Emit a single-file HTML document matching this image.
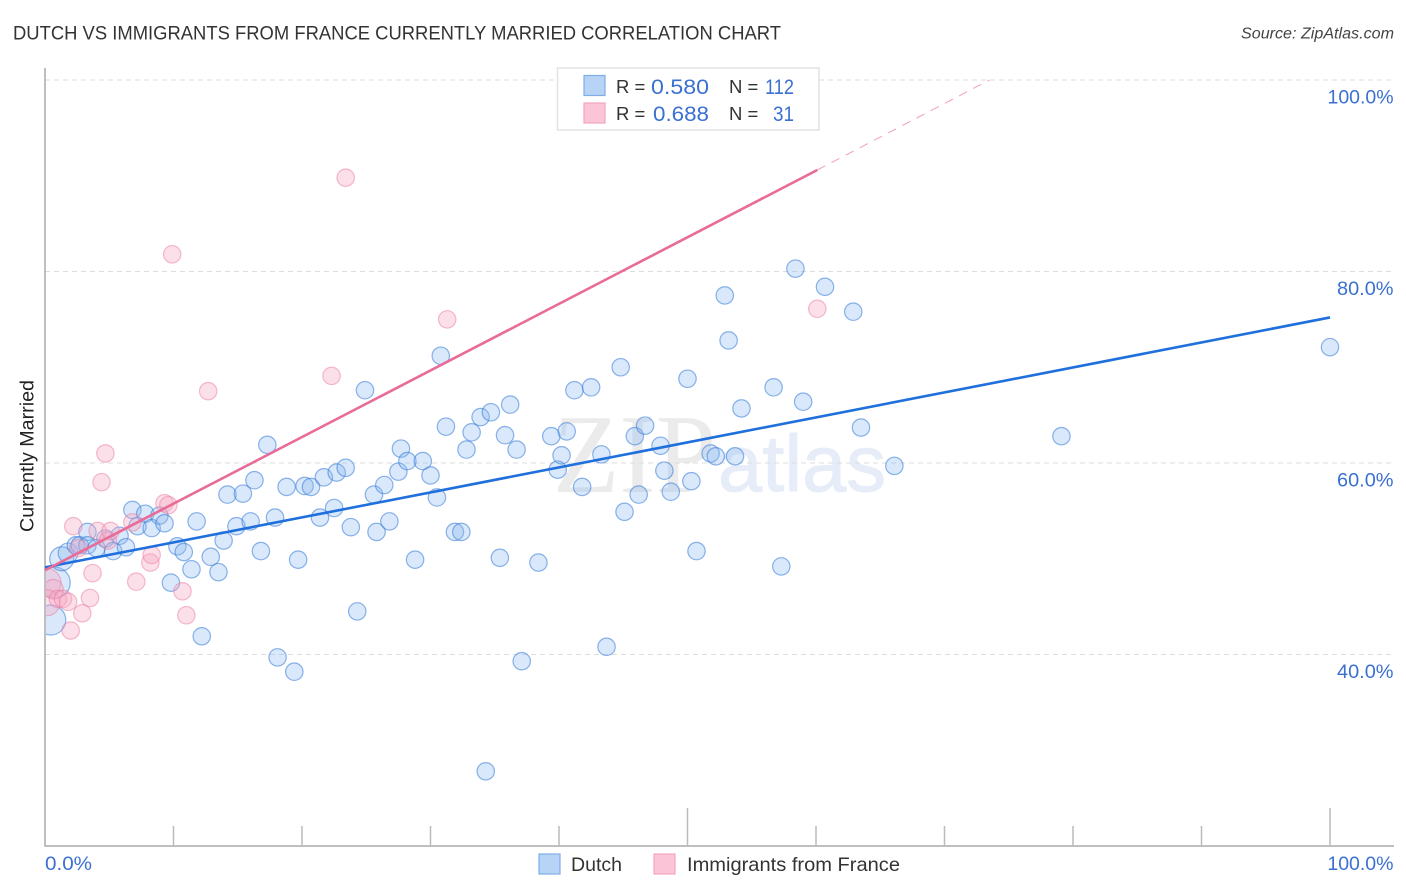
<!DOCTYPE html>
<html lang="en">
<head>
<meta charset="utf-8">
<title>Dutch vs Immigrants from France Currently Married Correlation Chart</title>
<style>
html,body{margin:0;padding:0;background:#fff;}
svg{display:block;font-family:"Liberation Sans",sans-serif;}
</style>
</head>
<body>
<svg id="chart" xmlns="http://www.w3.org/2000/svg" width="1406" height="892" viewBox="0 0 1406 892">
  <defs>
    <clipPath id="plot-clip"><rect x="46" y="60" width="1360" height="786"/></clipPath>
  </defs>
  <text x="13" y="39.500" font-size="19.500" fill="#333" textLength="768" lengthAdjust="spacingAndGlyphs">DUTCH VS IMMIGRANTS FROM FRANCE CURRENTLY MARRIED CORRELATION CHART</text>
  <text x="1241" y="38.500" font-size="15.500" font-style="italic" fill="#444" textLength="153" lengthAdjust="spacingAndGlyphs">Source: ZipAtlas.com</text>
  <g>
    <text x="553" y="492" font-family="'Liberation Serif',serif" font-size="112" fill="#ebebeb" textLength="163" lengthAdjust="spacingAndGlyphs">ZIP</text>
    <text x="718" y="491" font-family="'Liberation Sans',sans-serif" font-size="80" fill="#e6edf9" stroke="#e6edf9" stroke-width="1" textLength="168" lengthAdjust="spacingAndGlyphs">atlas</text>
  </g>
  <g id="grid"></g>
  <g id="axes"></g>
  <g id="dutch-points" clip-path="url(#plot-clip)"></g>
  <g id="france-points" clip-path="url(#plot-clip)"></g>
  <g id="lines"></g>
  <g id="y-labels"></g>
  <g id="x-labels"></g>
  <text transform="translate(33.500,456) rotate(-90)" font-size="19" fill="#222" text-anchor="middle" textLength="152" lengthAdjust="spacingAndGlyphs">Currently Married</text>

  <g>
    <rect x="557.500" y="68" width="261.500" height="62" fill="#fff" stroke="#e2e2e2" stroke-width="1.500"/>
    <rect x="584" y="75.500" width="21" height="20" fill="#b7d3f6" stroke="#7fade6" stroke-width="1.200"/>
    <rect x="584" y="103" width="21" height="20" fill="#fcc5d7" stroke="#f2a5bd" stroke-width="1.200"/>
    <text x="616" y="93" font-size="18.500" fill="#333">R =</text>
    <text x="651" y="94" font-size="21" fill="#3a70d0" textLength="58" lengthAdjust="spacingAndGlyphs">0.580</text>
    <text x="729" y="93" font-size="18.500" fill="#333">N =</text>
    <text x="765" y="94" font-size="21" fill="#3a70d0" textLength="29" lengthAdjust="spacingAndGlyphs">112</text>
    <text x="616" y="120" font-size="18.500" fill="#333">R =</text>
    <text x="653" y="121" font-size="21" fill="#3a70d0" textLength="56" lengthAdjust="spacingAndGlyphs">0.688</text>
    <text x="729" y="120" font-size="18.500" fill="#333">N =</text>
    <text x="773" y="121" font-size="21" fill="#3a70d0" textLength="21" lengthAdjust="spacingAndGlyphs">31</text>
  </g>

  <g>
    <rect x="539" y="854" width="21" height="20" fill="#b7d3f6" stroke="#7fade6" stroke-width="1.200"/>
    <text x="571" y="871" font-size="19.500" fill="#333" textLength="51" lengthAdjust="spacingAndGlyphs">Dutch</text>
    <rect x="654" y="854" width="21" height="20" fill="#fcc5d7" stroke="#f2a5bd" stroke-width="1.200"/>
    <text x="687" y="871" font-size="19.500" fill="#333" textLength="213" lengthAdjust="spacingAndGlyphs">Immigrants from France</text>
  </g>
</svg>
<script>
const yTicks = [100, 80, 60, 40];
const yTickLabels = ['100.0%', '80.0%', '60.0%', '40.0%'];
const xTicks = [10, 20, 30, 40, 50, 60, 70, 80, 90, 100];
const xMajorTicks = [50, 100];
const xEndLabels = ['0.0%', '100.0%'];

const dutchX = [0.45,0.75,1.3,1.8,2.4,2.7,3.3,3.3,4.0,4.7,5.3,5.8,6.3,6.8,7.2,7.8,8.3,8.9,9.3,9.8,10.3,10.8,11.4,11.8,12.2,12.9,13.5,13.9,14.2,14.9,15.4,16.0,16.3,16.8,17.3,17.9,18.1,18.8,19.4,19.7,20.2,20.7,21.4,21.7,22.5,22.7,23.4,23.8,24.3,24.9,25.6,25.8,26.4,26.8,27.5,27.7,28.2,28.8,29.4,30.0,30.5,30.8,31.2,31.9,32.4,32.8,33.2,33.9,34.3,34.7,35.4,35.8,36.2,36.7,37.1,38.4,39.4,39.9,40.2,40.6,41.2,41.8,42.5,43.3,43.7,44.8,45.1,45.9,46.2,46.7,47.9,48.2,48.7,50.0,50.3,50.7,51.8,52.2,52.9,53.2,53.7,54.2,56.7,57.3,58.4,59.0,60.7,62.9,63.5,66.1,79.1,100];
const dutchY = [43.6,47.5,50.0,50.6,51.4,51.4,52.8,51.4,51.1,52.1,50.8,52.4,51.2,55.1,53.4,54.7,53.2,54.5,53.7,47.5,51.3,50.7,48.9,53.9,41.9,50.2,48.6,51.9,56.7,53.4,56.8,53.9,58.2,50.8,61.9,54.3,39.7,57.5,38.2,49.9,57.6,57.5,54.3,58.5,55.3,59.0,59.5,53.3,44.5,67.6,56.7,52.8,57.7,53.9,59.1,61.5,60.2,49.9,60.2,58.7,56.4,71.2,63.8,52.8,52.8,61.4,63.2,64.8,27.8,65.3,50.1,62.9,66.1,61.4,39.3,49.6,62.8,59.3,60.8,63.3,67.6,57.5,67.9,60.9,40.8,70.0,54.9,62.8,56.7,63.9,61.8,59.2,57.0,68.8,58.1,50.8,61.0,60.7,77.5,72.8,60.7,65.7,67.9,49.2,80.3,66.4,78.4,75.8,63.7,59.7,62.8,72.1];
const dutchWeights = [2.97,3.2,1.9,1.3];

const franceX = [0.15,0.65,0.15,1.0,1.4,1.8,2.0,2.2,2.6,2.9,3.5,3.7,4.1,4.4,4.7,4.9,5.1,6.8,7.1,8.2,8.3,9.3,9.6,9.9,10.7,11.0,12.7,22.3,23.4,31.3,60.1];
const franceY = [47.5,46.8,45.4,45.8,45.8,45.5,42.5,53.4,51.1,44.3,45.9,48.5,52.9,58.0,61.0,51.9,52.9,53.8,47.6,49.6,50.4,55.8,55.6,81.8,46.6,44.1,67.5,69.1,89.8,75.0,76.1];
const franceWeights = [2.6,1.3,2.2];

const dutchTrendX = [0, 100];
const dutchTrendY = [49.1, 75.2];
const franceTrendX = [0, 60.1];
const franceTrendY = [48.8, 90.6];
const franceExtensionX = [60.1, 73.5];
const franceExtensionY = [90.6, 100];

const NS = 'http://www.w3.org/2000/svg';
function xScale(v) { return 45 + v * 12.85; }
function yScale(v) { return 80 + (100 - v) * 9.575; }
function make(tag, attrs, parent) {
  const el = document.createElementNS(NS, tag);
  for (const k in attrs) el.setAttribute(k, attrs[k]);
  parent.appendChild(el);
  return el;
}
const gridG = document.getElementById('grid');
const axesG = document.getElementById('axes');
const yLabG = document.getElementById('y-labels');
const xLabG = document.getElementById('x-labels');
const dutchG = document.getElementById('dutch-points');
const franceG = document.getElementById('france-points');
const lineG = document.getElementById('lines');

yTicks.forEach(function (t, i) {
  const g = make('line', {x1: 45, x2: 1394, y1: yScale(t), y2: yScale(t), stroke: '#dcdcdc', 'stroke-width': 1, 'stroke-dasharray': '5 4'}, gridG);
  
  
  const l = make('text', {x: 1393.500, y: yScale(t) + 23.500, 'font-size': 19.500, fill: '#3a70d0', 'text-anchor': 'end', textLength: yTickLabels[i].length * 9.500 + 9, lengthAdjust: 'spacingAndGlyphs'}, yLabG);
  l.textContent = yTickLabels[i];
  
  
});

const yAxis = make('line', {x1: 45, x2: 45, y1: 68, y2: 846.500, stroke: '#aaa', 'stroke-width': 1.500}, axesG);


const xAxis = make('line', {x1: 44.500, x2: 1394, y1: 846, y2: 846, stroke: '#aaa', 'stroke-width': 1.500}, axesG);


xTicks.forEach(function (t) {
  const major = xMajorTicks.indexOf(t) >= 0;
  const tick = make('line', {x1: xScale(t), x2: xScale(t), y1: major ? 808 : 826, y2: 846, stroke: '#bbb', 'stroke-width': 1.500}, axesG);
  
  
});
const x0 = make('text', {x: 45, y: 870, 'font-size': 19.500, fill: '#3a70d0', textLength: 47, lengthAdjust: 'spacingAndGlyphs'}, xLabG);
x0.textContent = xEndLabels[0];


const x1 = make('text', {x: 1393.500, y: 870, 'font-size': 19.500, fill: '#3a70d0', 'text-anchor': 'end'}, xLabG);
x1.textContent = xEndLabels[1];



dutchX.forEach(function (v, i) {
  const c = make('circle', {cx: xScale(v), cy: yScale(dutchY[i]), r: 8.700 * Math.sqrt(dutchWeights[i] || 1), fill: 'rgba(140,185,240,0.33)', stroke: 'rgba(50,120,215,0.55)', 'stroke-width': 1.200}, dutchG);
  
  
});
franceX.forEach(function (v, i) {
  const c = make('circle', {cx: xScale(v), cy: yScale(franceY[i]), r: 8.700 * Math.sqrt(franceWeights[i] || 1), fill: 'rgba(248,170,195,0.36)', stroke: 'rgba(235,120,160,0.5)', 'stroke-width': 1.200}, franceG);
  
  
});

const dutchLine = make('line', {x1: xScale(dutchTrendX[0]), x2: xScale(dutchTrendX[1]), y1: yScale(dutchTrendY[0]), y2: yScale(dutchTrendY[1]), stroke: '#1f6fdc', 'stroke-width': 2.600}, lineG);


const franceLine = make('line', {x1: xScale(franceTrendX[0]), x2: xScale(franceTrendX[1]), y1: yScale(franceTrendY[0]), y2: yScale(franceTrendY[1]), stroke: '#e86b98', 'stroke-width': 2.600}, lineG);


const franceExt = make('line', {x1: xScale(franceExtensionX[0]), x2: xScale(franceExtensionX[1]), y1: yScale(franceExtensionY[0]), y2: yScale(franceExtensionY[1]), stroke: '#eda0bb', 'stroke-width': 1, 'stroke-dasharray': '9 7'}, lineG);


</script>
</body>
</html>
